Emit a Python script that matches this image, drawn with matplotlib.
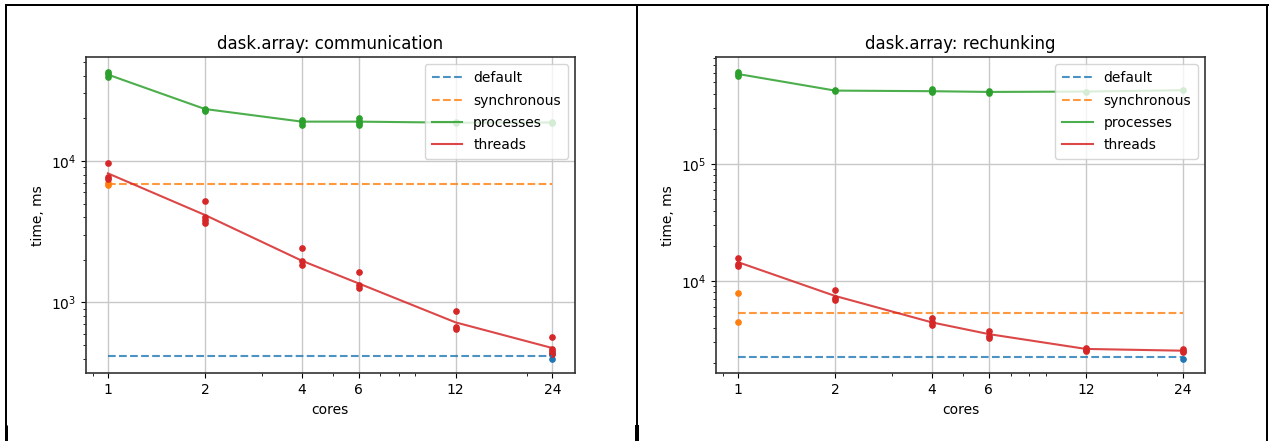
import matplotlib
matplotlib.use('Agg')
import matplotlib.pyplot as plt
from matplotlib.lines import Line2D
from matplotlib.ticker import NullFormatter

# core counts used in the benchmark
cores = [1, 2, 4, 6, 12, 24]

# --- dask.array: communication (times in ms) ---
comm_default = 420
comm_default_runs = [398, 428, 436]          # measured at 24 cores
comm_sync = 6880
comm_sync_runs = [6800, 6950]                # measured at 1 core
comm_proc = [40800, 23300, 18970, 18970, 18650, 18700]
comm_proc_runs = [
    [42800, 41000, 39000],
    [23400, 22900, 22600],
    [19400, 18800, 18000],
    [20100, 19300, 18600, 17900],
    [18800, 18500],
    [18900, 18500],
]
comm_thr = [8170, 4150, 1970, 1362, 722, 475]
comm_thr_runs = [
    [9700, 7640, 7460],
    [5240, 3990, 3800, 3620],
    [2440, 1960, 1850],
    [1640, 1330, 1270],
    [864, 673, 650],
    [565, 470, 450, 432],
]

# --- dask.array: rechunking (times in ms) ---
rech_default = 2230
rech_default_runs = [2160]
rech_sync = 5380
rech_sync_runs = [7910, 4490]
rech_proc = [589000, 425000, 420000, 414000, 417000, 428000]
rech_proc_runs = [
    [617000, 590000, 563000],
    [430000, 420000],
    [438000, 425000, 412000],
    [420000, 408000],
    [417000],
    [428000],
]
rech_thr = [14500, 7460, 4430, 3520, 2630, 2540]
rech_thr_runs = [
    [15800, 13900, 13400],
    [8440, 7220, 6900],
    [4880, 4430, 4230],
    [3760, 3410, 3260],
    [2700, 2600, 2540],
    [2620, 2540, 2460],
]

C_DEF, C_SYNC, C_PROC, C_THR = '#1f77b4', '#ff7f0e', '#2ca02c', '#d62728'

W, H = 1269, 441
fig = plt.figure(figsize=(W / 100, H / 100), dpi=100)


def draw(ax, title, default, default_runs, sync, sync_runs,
         proc, proc_runs, thr, thr_runs):
    ms = 3.8
    ax.plot([cores[-1]] * len(default_runs), default_runs, 'o', color=C_DEF, ms=ms)
    ax.plot([cores[0]] * len(sync_runs), sync_runs, 'o', color=C_SYNC, ms=ms)
    for c, runs in zip(cores, proc_runs):
        ax.plot([c] * len(runs), runs, 'o', color=C_PROC, ms=ms)
    for c, runs in zip(cores, thr_runs):
        ax.plot([c] * len(runs), runs, 'o', color=C_THR, ms=ms)

    ax.plot([cores[0], cores[-1]], [default, default], '--', color=C_DEF,
            alpha=0.8, lw=1.5, label='default')
    ax.plot([cores[0], cores[-1]], [sync, sync], '--', color=C_SYNC,
            alpha=0.8, lw=1.5, label='synchronous')
    ax.plot(cores, proc, '-', color=C_PROC, alpha=0.85, lw=1.5, label='processes')
    ax.plot(cores, thr, '-', color=C_THR, alpha=0.85, lw=1.5, label='threads')

    ax.set_xscale('log')
    ax.set_yscale('log')
    ax.set_xticks(cores)
    ax.set_xticklabels([str(c) for c in cores])
    ax.xaxis.set_minor_formatter(NullFormatter())
    ax.grid(True, which='major', color='#c8c8c8', lw=1.0)
    ax.set_axisbelow(True)
    for sp in ax.spines.values():
        sp.set_linewidth(1.2)
        sp.set_color('#333333')
    ax.tick_params(labelsize=10)
    ax.set_title(title, fontsize=12)
    ax.set_xlabel('cores', fontsize=10)
    ax.set_ylabel('time, ms', fontsize=10)
    ax.legend(loc='upper right', fontsize=10, labelspacing=0.6,
              borderpad=0.5, handlelength=2.2)


ax1 = fig.add_axes([85.7 / W, 1 - 373.3 / H, 489.0 / W, 316.0 / H])
draw(ax1, 'dask.array: communication', comm_default, comm_default_runs,
     comm_sync, comm_sync_runs, comm_proc, comm_proc_runs, comm_thr, comm_thr_runs)

ax2 = fig.add_axes([715.9 / W, 1 - 373.3 / H, 489.3 / W, 316.0 / H])
draw(ax2, 'dask.array: rechunking', rech_default, rech_default_runs,
     rech_sync, rech_sync_runs, rech_proc, rech_proc_runs, rech_thr, rech_thr_runs)


# table cell borders around the two plots
def rule(x0, y0, x1, y1, px):
    fig.add_artist(Line2D([x0 / W, x1 / W], [1 - y0 / H, 1 - y1 / H],
                          transform=fig.transFigure, color='black',
                          lw=px * 0.72, solid_capstyle='butt'))


rule(5, 5, 1269, 5, 2)
rule(6, 4, 6, 441, 2)
rule(637, 4, 637, 441, 2)
rule(1267, 4, 1267, 441, 2)
rule(6.5, 425, 6.5, 441, 3)
rule(637, 425, 637, 441, 4)

fig.savefig('out.png', dpi=100)
